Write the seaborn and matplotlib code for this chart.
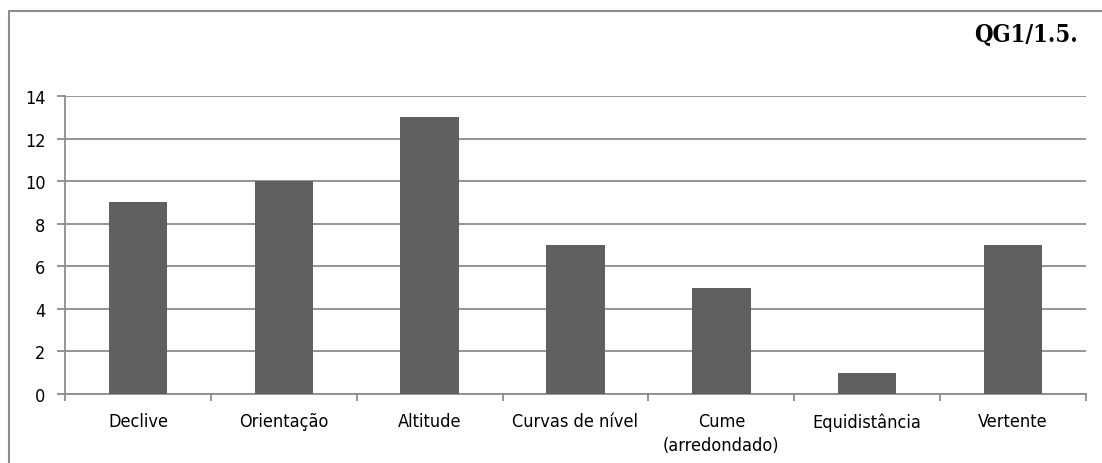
import matplotlib
matplotlib.use("Agg")
import matplotlib.pyplot as plt
import seaborn as sns
import pandas as pd
from matplotlib.patches import Rectangle

categories = ["Declive", "Orientação", "Altitude", "Curvas de nível",
              "Cume\n(arredondado)", "Equidistância", "Vertente"]
values = [9, 10, 13, 7, 5, 1, 7]
y_ticks = [0, 2, 4, 6, 8, 10, 12, 14]
title = "QG1/1.5."

sns.set_theme(style="white")
plt.rcParams["font.family"] = ["DejaVu Sans", "Liberation Sans"]
plt.rcParams["font.stretch"] = "condensed"

df = pd.DataFrame({"categoria": categories, "valor": values})

W, H = 1102, 464
fig = plt.figure(figsize=(W / 100, H / 100), dpi=100)

# outer frame (only left and top edges fall inside the canvas)
fig.patches.append(Rectangle((9 / W, -0.1), 1.2, 1 - 12 / H + 0.1,
                             transform=fig.transFigure, fill=False,
                             edgecolor="#8c8c8c", linewidth=1.5, zorder=0))

ax = fig.add_axes([65 / W, 1 - 395 / H, (1086 - 65) / W, (395 - 97) / H])
sns.barplot(data=df, x="categoria", y="valor", color="#606060",
            saturation=1, width=0.4, linewidth=0, ax=ax, zorder=3)

ax.set_ylim(0, 14)
ax.set_yticks(y_ticks)
ax.set_xlim(-0.5, len(categories) - 0.5)
ax.set_xlabel("")
ax.set_ylabel("")

ax.yaxis.grid(True, color="#8c8c8c", linewidth=1.3)
ax.set_axisbelow(True)
for side in ("top", "right"):
    ax.spines[side].set_visible(False)
for side in ("left", "bottom"):
    ax.spines[side].set_color("#8c8c8c")
    ax.spines[side].set_linewidth(1.3)

# category ticks sit on the boundaries between groups
ax.set_xticks([i + 0.5 for i in range(-1, len(categories))], minor=True)
ax.tick_params(axis="x", which="minor", length=5, width=1.3, color="#8c8c8c",
               direction="out", bottom=True)
ax.tick_params(axis="x", which="major", length=0, pad=13, labelsize=13, colors="#000000")
ax.tick_params(axis="y", length=6, width=1.3, color="#8c8c8c", direction="out",
               left=True, pad=8, labelsize=13, labelcolor="#000000")
for lbl in ax.get_xticklabels():
    lbl.set_linespacing(1.45)

fig.text(1078 / W, 1 - 35 / H, title, ha="right", va="center", color="#000000",
         fontsize=17, fontweight="bold", fontstretch="condensed",
         family=["DejaVu Serif"])

fig.savefig("out.png", dpi=100)
